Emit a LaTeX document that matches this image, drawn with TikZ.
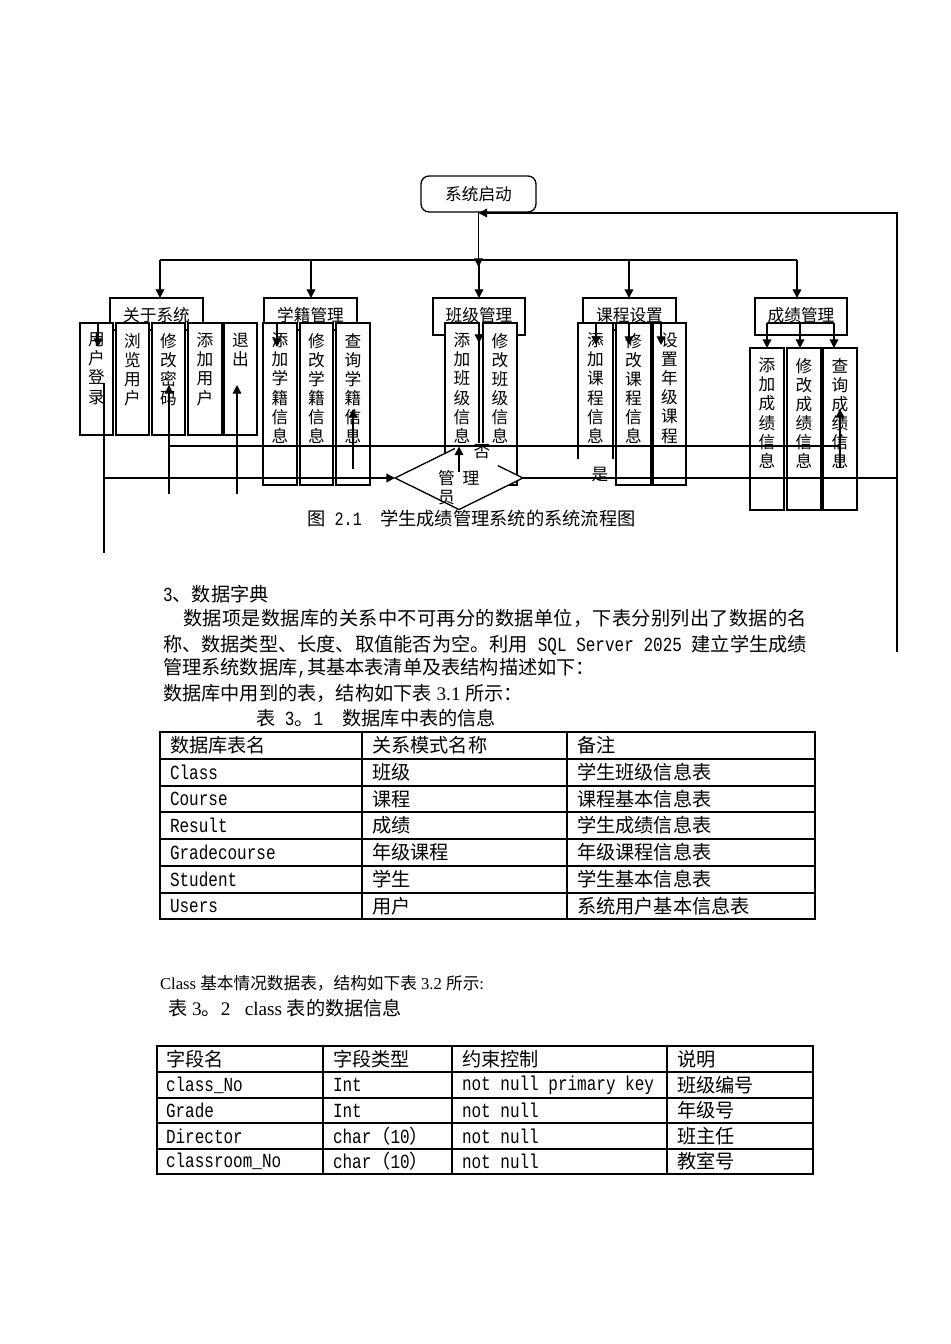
\documentclass[tikz,border=0pt]{standalone}
\usepackage{fontspec}
\setmainfont{Noto Sans CJK SC}
\newfontfamily\monof[FakeStretch=0.8]{Liberation Mono}
\newfontfamily\tnrf{Liberation Serif}
\usetikzlibrary{arrows.meta,shapes.geometric}
\XeTeXlinebreaklocale "zh"
\XeTeXlinebreakskip=0pt plus 1pt
\newcommand\fl{\fontsize{12.5pt}{14.3pt}\selectfont}
\newcommand\bd{\fontsize{14.4pt}{18pt}\selectfont}
\newcommand\fsm{\fontsize{12.5pt}{15pt}\selectfont}
\newcommand\fcp{\fontsize{13.7pt}{16pt}\selectfont}
\newcommand\mo[1]{{\monof\fontsize{15pt}{17pt}\selectfont #1}}
\newcommand\ms[1]{{\monof\fontsize{14.2pt}{16pt}\selectfont #1}}
\newcommand\tm[1]{{\tnrf #1}}
\newcommand\mkbox[5]{\node[bx, minimum width={(#4-#2)*0.75pt}, minimum height={(#5-#3)*0.75pt}] (#1) at ({(#2+#4)/2},{(#3+#5)/2}) {};}
\newcommand\subbx[6]{\mkbox{#1}{#2}{#3}{#4}{#5}\node[vt] (#1t) at ([yshift=-7.5pt]#1.north) {#6};}
\tikzset{
  every node/.style={inner sep=0pt, outer sep=0pt},
  bx/.style={draw, fill=white, line width=1pt},
  vt/.style={font=\fl, align=center, anchor=north},
  ln/.style={line width=1pt},
  arr/.style={line width=1pt, -{Triangle[length=6.5pt,width=6.5pt]}},
  tl/.style={line width=0.8pt},
  cell/.style={anchor=west, font=\bd},
  dia/.style={diamond, draw, fill=white, line width=1pt, minimum width=96pt, minimum height=47.25pt},
  pl/.style={anchor=west, text width=483pt, align=justify, font=\bd},
}
\begin{document}
\begin{tikzpicture}[x=0.75pt,y=-0.75pt]
\path[use as bounding box, fill=white] (0,0) rectangle (950,1344);
% start node
\node[bx, rounded corners=6pt, minimum width=86.25pt, minimum height=27pt, font=\fl] (start) at (478.5,194) {系统启动};
% second level boxes
\mkbox{about}{110}{298}{203}{330}
\mkbox{xj}{264}{298}{357}{330}
\mkbox{bj}{433}{298}{525}{335}
\mkbox{kc}{583}{298}{676}{330}
\mkbox{cj}{755}{298}{847}{335}
% sub boxes
\subbx{a1}{80}{323}{113}{435}{用\\户\\登\\录}
\subbx{a2}{116}{323}{149}{435}{浏\\览\\用\\户}
\subbx{a3}{152}{323}{185}{435}{修\\改\\密\\码}
\subbx{a4}{188}{323}{222}{435}{添\\加\\用\\户}
\subbx{a5}{224}{323}{257}{435}{退\\出}
\subbx{x1}{263}{323}{297}{485}{添\\加\\学\\籍\\信\\息}
\subbx{x2}{300}{323}{333}{485}{修\\改\\学\\籍\\信\\息}
\subbx{x3}{336}{323}{370}{485}{查\\询\\学\\籍\\信\\息}
\subbx{b1}{445}{323}{479}{485}{添\\加\\班\\级\\信\\息}
\subbx{b2}{483}{323}{517}{485}{修\\改\\班\\级\\信\\息}
\subbx{k1}{578}{323}{613}{485}{添\\加\\课\\程\\信\\息}
\subbx{k2}{616}{323}{651}{485}{修\\改\\课\\程\\信\\息}
\subbx{k3}{653}{323}{686}{485}{设\\置\\年\\级\\课\\程}
\subbx{c1}{750}{348}{784}{510}{添\\加\\成\\绩\\信\\息}
\subbx{c2}{787}{348}{821}{510}{修\\改\\成\\绩\\信\\息}
\subbx{c3}{823}{348}{857}{510}{查\\询\\成\\绩\\信\\息}
% parent labels
\node[font=\fl] (aboutt) at (156.5,315) {关于系统};
\node[font=\fl] (xjt) at (310.5,315) {学籍管理};
\node[font=\fl] (bjt) at (479,315) {班级管理};
\node[font=\fl] (kct) at (629.5,315) {课程设置};
\node[font=\fl] (cjt) at (801,315) {成绩管理};
% bus
\coordinate (bus1) at (160,260);
\coordinate (bus2) at (311,260);
\coordinate (bus3) at (479,260);
\coordinate (bus4) at (629,260);
\coordinate (bus5) at (797,260);
\draw[ln] (bus1) -- (bus5);
\draw[arr] (start.south) -- (start.south |- 0,267);
\foreach \b/\n in {bus1/about, bus2/xj, bus3/bj, bus4/kc, bus5/cj}
  \draw[arr] (\b) -- (\b |- \n.north);
% inner arrows
\draw[arr] ([xshift=1.1pt]a1.north) -- ++(0,24);
\draw[arr] ([xshift=-2.25pt]x1.north) -- ++(0,24);
\draw[arr] (b1.north east) -- ++(0,20);
\coordinate (kA) at (596,323);
\coordinate (kB) at (629,323);
\coordinate (kC) at (661,323);
\draw[ln] (kA) -- (kC);
\foreach \c in {kA,kB,kC} \draw[arr] (\c) -- ++(0,22);
\coordinate (cA) at (767,323);
\coordinate (cB) at (800,323);
\coordinate (cC) at (834,323);
\draw[ln] (cA) -- (cC);
\foreach \c in {cA,cB,cC} \draw[arr] (\c) -- (\c |- c1.north);
% decision
\node[dia] (adm) at (459,478) {};
\node[font=\fl, align=left, anchor=north west] (admt) at (438,470) {管\hspace{6pt}理\\员};
\fill[white] (455,443) rectangle (498,466);
\node[font=\fl] (no) at (482,452) {否};
\fill[white] (577,459) rectangle (615,493);
\node[font=\fl] (yes) at (600,475) {是};
% feedback lines
\coordinate (u0) at (104,383);
\coordinate (u1) at (104,553);
\draw[ln] (u0) -- (u1);
\draw[arr] (u0 |- adm.west) -- (adm.west);
\coordinate (r0) at (897,652);
\coordinate (r1) at (897,213);
\draw[ln] (adm.east) -- (adm.east -| r1);
\draw[arr] (r0) -- (r1) -- (r1 -| start.south);
\coordinate (m0) at (169,446);
\coordinate (m1) at (840,446);
\draw[ln] (m0) -- (m1);
\draw[arr] (169,494) -- (169,385);
\draw[arr] (237,494) -- (237,385);
\draw[arr] (353,469) -- (353,409);
\draw[arr] (840,468) -- (840,409);
\draw[arr] ([yshift=-18.75pt]adm.north) -- (adm.north);
% caption
\node[font=\fcp] (cap) at (471.5,519) {图\ms{\ 2.1\ \ }学生成绩管理系统的系统流程图};
% text
\node[anchor=west, font=\bd] (h3) at (163,594) {\mo{3}、数据字典};
\node[pl] (p1) at (163,618) {\noindent\parfillskip=0pt\relax\hspace*{15pt}数据项是数据库的关系中不可再分的数据单位，下表分别列出了数据的名\par};
\node[pl] (p2) at (163,645) {\noindent\parfillskip=0pt\relax 称、数据类型、长度、取值能否为空。利用\mo{\ SQL Server 2025\ }建立学生成绩\par};
\node[anchor=west, font=\bd] (p3) at (163,668) {管理系统数据库\mo{,}其基本表清单及表结构描述如下：};
\node[anchor=west, font=\bd] (p4) at (163,693) {数据库中用到的表，结构如下表\tm{\ 3.1\ }所示：};
\node[anchor=west, font=\bd] (t1cap) at (256,718) {表\mo{\ 3}。\mo{1\ \ }数据库中表的信息};
% table 1
\draw[tl] (160,732) rectangle (815,919);
\foreach \y in {759,786,812,839,866,893} \draw[tl] (160,\y) -- (815,\y);
\draw[tl] (362,732) -- (362,919);
\draw[tl] (567,732) -- (567,919);
\node[cell] (r1a) at (170,745.5) {数据库表名};
\node[cell] (r1b) at (372,745.5) {关系模式名称};
\node[cell] (r1c) at (577,745.5) {备注};
\node[cell] (r2a) at (170,772.5) {\mo{Class}};
\node[cell] (r2b) at (372,772.5) {班级};
\node[cell] (r2c) at (577,772.5) {学生班级信息表};
\node[cell] (r3a) at (170,799) {\mo{Course}};
\node[cell] (r3b) at (372,799) {课程};
\node[cell] (r3c) at (577,799) {课程基本信息表};
\node[cell] (r4a) at (170,825.5) {\mo{Result}};
\node[cell] (r4b) at (372,825.5) {成绩};
\node[cell] (r4c) at (577,825.5) {学生成绩信息表};
\node[cell] (r5a) at (170,852.5) {\mo{Gradecourse}};
\node[cell] (r5b) at (372,852.5) {年级课程};
\node[cell] (r5c) at (577,852.5) {年级课程信息表};
\node[cell] (r6a) at (170,879.5) {\mo{Student}};
\node[cell] (r6b) at (372,879.5) {学生};
\node[cell] (r6c) at (577,879.5) {学生基本信息表};
\node[cell] (r7a) at (170,906) {\mo{Users}};
\node[cell] (r7b) at (372,906) {用户};
\node[cell] (r7c) at (577,906) {系统用户基本信息表};
% table 2 captions
\node[anchor=west, font=\fsm] (t2a) at (160,983) {\tm{Class\ }基本情况数据表，结构如下表\tm{\ 3.2\ }所示\tm{:}};
\node[anchor=west, font=\bd] (t2cap) at (168,1008) {表\tm{\ 3}。\tm{2\ \ \ class\ }表的数据信息};
% table 2
\draw[tl] (157,1046) rectangle (813,1174);
\foreach \y in {1072,1098,1123,1149} \draw[tl] (157,\y) -- (813,\y);
\foreach \x in {323,452,667} \draw[tl] (\x,1046) -- (\x,1174);
\node[cell] (q1a) at (166,1059) {字段名};
\node[cell] (q1b) at (333,1059) {字段类型};
\node[cell] (q1c) at (462,1059) {约束控制};
\node[cell] (q1d) at (677,1059) {说明};
\node[cell] (q2a) at (166,1085) {\mo{class\_No}};
\node[cell] (q2b) at (333,1085) {\mo{Int}};
\node[cell] (q2c) at (462,1085) {\mo{not null primary key}};
\node[cell] (q2d) at (677,1085) {班级编号};
\node[cell] (q3a) at (166,1110.5) {\mo{Grade}};
\node[cell] (q3b) at (333,1110.5) {\mo{Int}};
\node[cell] (q3c) at (462,1110.5) {\mo{not null}};
\node[cell] (q3d) at (677,1110.5) {年级号};
\node[cell] (q4a) at (166,1136) {\mo{Director}};
\node[cell] (q4b) at (333,1136) {\mo{char}（\mo{10}）};
\node[cell] (q4c) at (462,1136) {\mo{not null}};
\node[cell] (q4d) at (677,1136) {班主任};
\node[cell] (q5a) at (166,1161.5) {\mo{classroom\_No}};
\node[cell] (q5b) at (333,1161.5) {\mo{char}（\mo{10}）};
\node[cell] (q5c) at (462,1161.5) {\mo{not null}};
\node[cell] (q5d) at (677,1161.5) {教室号};
\end{tikzpicture}
\end{document}
